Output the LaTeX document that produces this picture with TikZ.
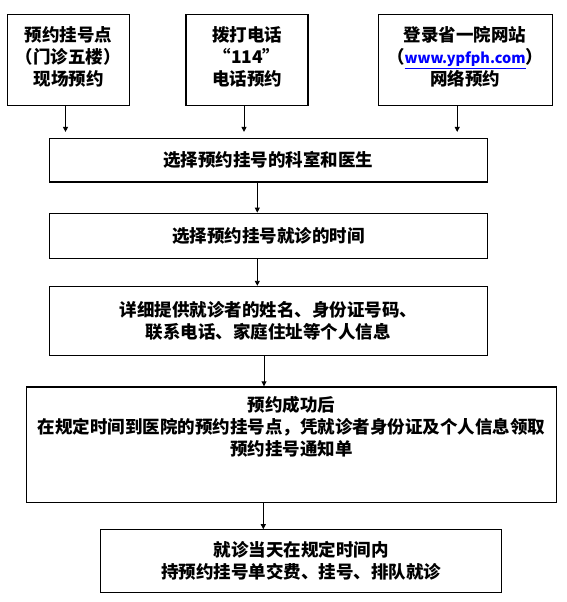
\documentclass[tikz,border=0pt]{standalone}
\usepackage{fontspec}
\setmainfont{Noto Sans CJK SC}
\usetikzlibrary{positioning,arrows.meta}
\definecolor{LinkBlue}{HTML}{0000FF}
\tikzset{
  flow box/.style={draw=black,line width=1.2pt,align=center,inner sep=2pt,
    font=\fontsize{17.5pt}{22pt}\selectfont\bfseries},
  flow text/.style={align=center,inner sep=0pt,
    font=\fontsize{17.5pt}{22pt}\selectfont\bfseries},
  flow arrow/.style={-{Triangle[length=5pt,width=5pt]},line width=0.9pt}
}

\begin{document}
\begin{tikzpicture}[x=1pt,y=1pt,node distance=30pt and 55pt]
  \useasboundingbox (0,0) rectangle (566,-602);
  \node[flow box,minimum width=438pt,minimum height=43.5pt] (choose) at (268.3,-160.25) {选择预约挂号的科室和医生};
  \node[flow box,minimum width=122pt,minimum height=91pt,above=32pt of choose,xshift=-21.3pt] (phone) {拨打电话\\“114”\\电话预约\\[-14pt]};
  \node[flow box,minimum width=122pt,minimum height=91pt,left=55.3pt of phone] (onsite) {预约挂号点\\（门诊五楼）\\现场预约\\[-14pt]};
  \node[flow box,minimum width=174pt,minimum height=91pt,right=69pt of phone] (online) {登录省一院网站\\（{\fontsize{14.5pt}{22pt}\selectfont\color{LinkBlue}\underline{www.ypfph.com}}）\\网络预约\\[-14pt]};
  \node[flow box,minimum width=438pt,minimum height=45pt,below=30pt of choose] (time) {选择预约挂号就诊的时间};
  \node[flow box,minimum width=438pt,minimum height=69.3pt,below=27pt of time] (info) {详细提供就诊者的姓名、身份证号码、\\联系电话、家庭住址等个人信息};
  \node[flow box,minimum width=530pt,minimum height=115.7pt,below=30pt of info,xshift=23.4pt] (notice) {};
  \node[flow text,below=10pt of notice.north] (noticetext) {预约成功后\\在规定时间到医院的预约挂号点，凭就诊者身份证及个人信息领取\\预约挂号通知单};
  \node[flow box,minimum width=401pt,minimum height=62.3pt,below=26pt of notice,xshift=9.3pt] (visit) {就诊当天在规定时间内\\持预约挂号单交费、挂号、排队就诊};
  \draw[flow arrow,shorten >=6pt] ([xshift=-3pt]onsite.south) -- ([xshift=-3pt]onsite.south |- choose.north);
  \draw[flow arrow,shorten >=6pt] ([xshift=-3pt]phone.south) -- ([xshift=-3pt]phone.south |- choose.north);
  \draw[flow arrow,shorten >=6pt] ([xshift=-8pt]online.south) -- ([xshift=-8pt]online.south |- choose.north);
  \draw[flow arrow] ([xshift=-11pt]choose.south) -- ([xshift=-11pt]time.north);
  \draw[flow arrow] ([xshift=-11pt]time.south) -- ([xshift=-11pt]info.north);
  \draw[flow arrow] ([xshift=-4.3pt]info.south) -- ([xshift=-4.3pt]info.south |- notice.north);
  \draw[flow arrow] ([xshift=-28.4pt]notice.south) -- ([xshift=-28.4pt]notice.south |- visit.north);
\end{tikzpicture}
\end{document}
